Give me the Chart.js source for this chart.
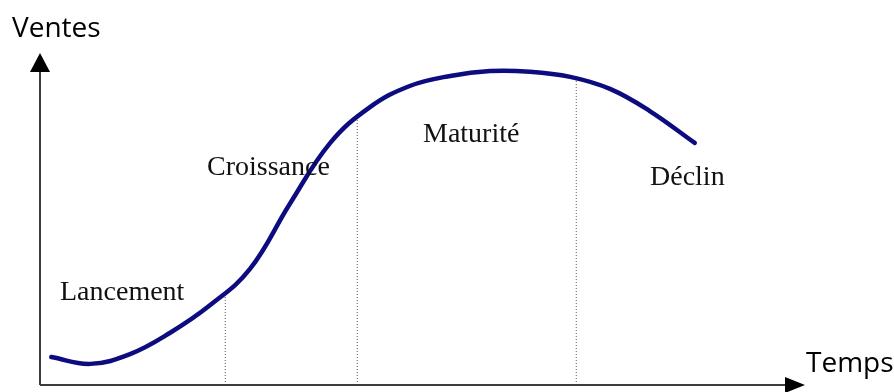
<!DOCTYPE html>
<html>
<head>
<meta charset="utf-8">
<script src="https://cdn.jsdelivr.net/npm/chart.js@4"></script>
<style>
  html, body { margin: 0; padding: 0; background: #fff; }
  canvas { display: block; }
</style>
</head>
<body>
<canvas id="cycleChart" width="894" height="392"></canvas>
<script>
// product life cycle curve
const timePoints = [1.5, 6.7, 12, 17.3, 22.7, 28, 33.3, 38.7, 44, 49.3, 54.7, 60, 65.3, 70.7, 76, 81.3, 87.3];
const salesValues = [8.6, 6.5, 9.5, 16, 24.6, 35.7, 55.7, 74.5, 85.5, 92, 95.1, 96.6, 96.4, 94.8, 91.1, 84.3, 74.5];

// phase boundaries (time) and the curve height there
const boundaryTimes = [24.7, 42.3, 71.5];
const boundarySales = [28.6, 82.4, 94.5];

const phaseNames = ['Lancement', 'Croissance', 'Maturité', 'Déclin'];
const axisTitles = ['Ventes', 'Temps'];

// where the text sits, in pixels (left, baseline)
const phaseLabelPos = [[60, 300], [207, 175], [423, 142], [650, 185]];

const curve = timePoints.map((t, i) => ({ x: t, y: salesValues[i] }));

const boundaryDatasets = boundaryTimes.map((t, i) => ({
    data: [{ x: t, y: 0 }, { x: t, y: boundarySales[i] }],
    borderColor: '#5a5a5a',
    borderWidth: 1,
    borderDash: [1, 2],
    pointRadius: 0,
    tension: 0
}));

function arrowHead(ctx, tipX, tipY, dir) {
    ctx.beginPath();
    if (dir === 'up') {
        ctx.moveTo(tipX, tipY);
        ctx.lineTo(tipX - 10, tipY + 19);
        ctx.lineTo(tipX + 10, tipY + 19);
    } else {
        ctx.moveTo(tipX, tipY);
        ctx.lineTo(tipX - 20, tipY - 8);
        ctx.lineTo(tipX - 20, tipY + 8);
    }
    ctx.closePath();
    ctx.fill();
}

const decorations = {
    id: 'decorations',
    afterDraw(chart) {
        const ctx = chart.ctx;
        const area = chart.chartArea;
        ctx.save();

        // axes with arrows
        ctx.strokeStyle = '#3c3c3c';
        ctx.fillStyle = '#000';
        ctx.lineWidth = 2;
        ctx.beginPath();
        ctx.moveTo(area.left, area.bottom);
        ctx.lineTo(area.left, 60);
        ctx.moveTo(area.left, area.bottom);
        ctx.lineTo(795, area.bottom);
        ctx.stroke();
        arrowHead(ctx, area.left, 53, 'up');
        arrowHead(ctx, 805, area.bottom, 'right');

        // axis titles
        ctx.fillStyle = '#000';
        ctx.textBaseline = 'alphabetic';
        ctx.font = '28px "Open Sans"';
        ctx.fillText(axisTitles[0], 12, 37);
        ctx.fillText(axisTitles[1], 806, 372);

        // phase names
        ctx.fillStyle = '#111';
        ctx.font = '28px "Liberation Serif"';
        phaseNames.forEach((name, i) => {
            ctx.fillText(name, phaseLabelPos[i][0], phaseLabelPos[i][1]);
        });
        ctx.restore();
    }
};

window.onload = function () {
    const ctx = document.getElementById('cycleChart').getContext('2d');
    new Chart(ctx, {
        type: 'line',
        data: {
            datasets: [{
                data: curve,
                borderColor: '#0c0c80',
                borderWidth: 4.5,
                borderCapStyle: 'round',
                pointRadius: 0,
                tension: 0.4
            }].concat(boundaryDatasets)
        },
        options: {
            responsive: false,
            animation: false,
            layout: { padding: { left: 40, right: 104, top: 60, bottom: 7 } },
            plugins: {
                legend: { display: false },
                tooltip: { enabled: false }
            },
            scales: {
                x: { type: 'linear', min: 0, max: 100, display: false },
                y: { min: 0, max: 100, display: false }
            }
        },
        plugins: [decorations]
    });
};
</script>
</body>
</html>
